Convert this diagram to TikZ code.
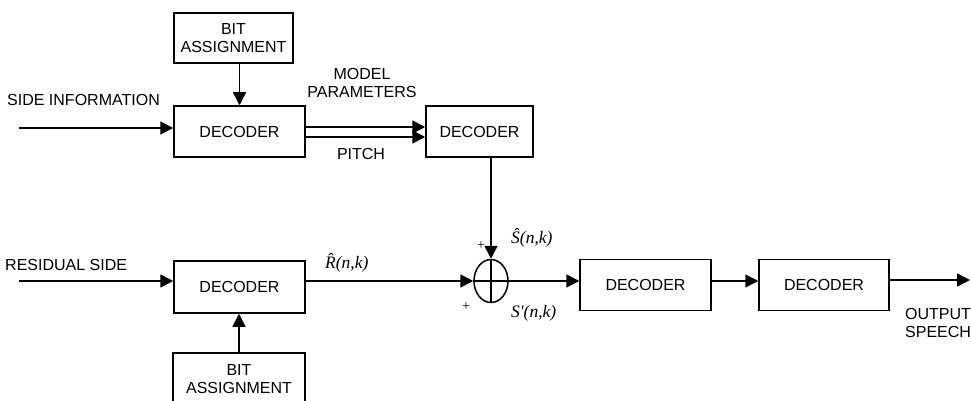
\documentclass[tikz,border=0pt]{standalone}
\usepackage{fontspec}
\setmainfont{Liberation Sans}
\newfontfamily\serifit{Liberation Serif}
\usetikzlibrary{arrows.meta,shapes.geometric}
\begin{document}
\begin{tikzpicture}[x=1pt,y=-1pt,
  blk/.style={draw,line width=1.5pt,minimum width=131pt,minimum height=51pt,inner sep=0pt,font=\fontsize{16}{18}\selectfont,align=center},
  lbl/.style={font=\fontsize{16}{18}\selectfont,inner sep=0pt},
  mlbl/.style={font=\fontsize{17.5}{19}\selectfont\serifit\itshape,inner sep=0pt},
  plus/.style={font=\fontsize{14}{14}\selectfont\serifit,inner sep=0pt},
  arr/.style={line width=1.5pt,-{Triangle[length=13pt,width=13pt]}},
  ln/.style={line width=1.5pt}]
\useasboundingbox (0,0) rectangle (971,401);
\clip (0,0) rectangle (971,401);
% blocks
\node[blk, minimum width=119pt, minimum height=50pt] (bitT) at (233.5,38) {BIT\\ASSIGNMENT};
\node[blk] (dec1) at (239.5,131.5) {DECODER};
\node[blk, minimum width=107pt] (dec2) at (479.5,131.5) {DECODER};
\node[blk, minimum height=52pt] (decR) at (239.5,287) {DECODER};
\node[blk, minimum width=132pt, minimum height=52pt] (bitB) at (239,379) {BIT\\ASSIGNMENT};
\node[draw, ellipse, line width=1.5pt, minimum width=34pt, minimum height=43pt, inner sep=0pt] (sum) at (491,281) {};
\draw[ln] (sum.north) -- (sum.south) (sum.west) -- (sum.east);
\node[blk] (dec3) at (645.5,285) {DECODER};
\node[blk, minimum width=130pt] (dec4) at (824,285) {DECODER};
% free ends
\coordinate (sideIn) at (19,128);
\coordinate (resIn) at (19,281);
\coordinate (out) at (970,280);
% connectors
\draw[arr] (sideIn) -- (sideIn -| dec1.west);
\draw[arr] (resIn) -- (resIn -| decR.west);
\draw[arr] (dec1.north |- bitT.south) -- (dec1.north);
\draw[arr] (bitB.north) -- (bitB.north |- decR.south);
\draw[arr] ([yshift=4.5pt]dec1.east) -- ([yshift=4.5pt]dec2.west);
\draw[arr] ([yshift=-5.5pt]dec1.east) -- ([yshift=-5.5pt]dec2.west);
\draw[arr] (sum.north |- dec2.south) -- (sum.north);
\draw[arr] (sum.west -| decR.east) -- (sum.west);
\draw[arr] (sum.east) -- (sum.east -| dec3.west);
\draw[arr] (sum.east -| dec3.east) -- (sum.east -| dec4.west);
\draw[arr] (out -| dec4.east) -- (out);
% labels
\node[lbl, anchor=west] (lside) at (7,100) {SIDE INFORMATION};
\node[lbl, anchor=west] (lres) at (5,265) {RESIDUAL SIDE};
\node[lbl, align=center] (lmodel) at (362,83) {MODEL\\PARAMETERS};
\node[lbl] (lpitch) at (361,154) {PITCH};
\node[lbl, anchor=west, align=left] (lout) at (905,322.5) {OUTPUT\\SPEECH};
\node[mlbl, anchor=west] (lR) at (325,263) {\^{R}(n,k)};
\node[mlbl, anchor=west] (lS) at (511,238) {\^{S}(n,k)};
\node[mlbl, anchor=west] (lSp) at (511,313) {S'(n,k)};
\node[plus] (p1) at (481,246) {+};
\node[plus] (p2) at (466,307) {+};
\end{tikzpicture}
\end{document}
